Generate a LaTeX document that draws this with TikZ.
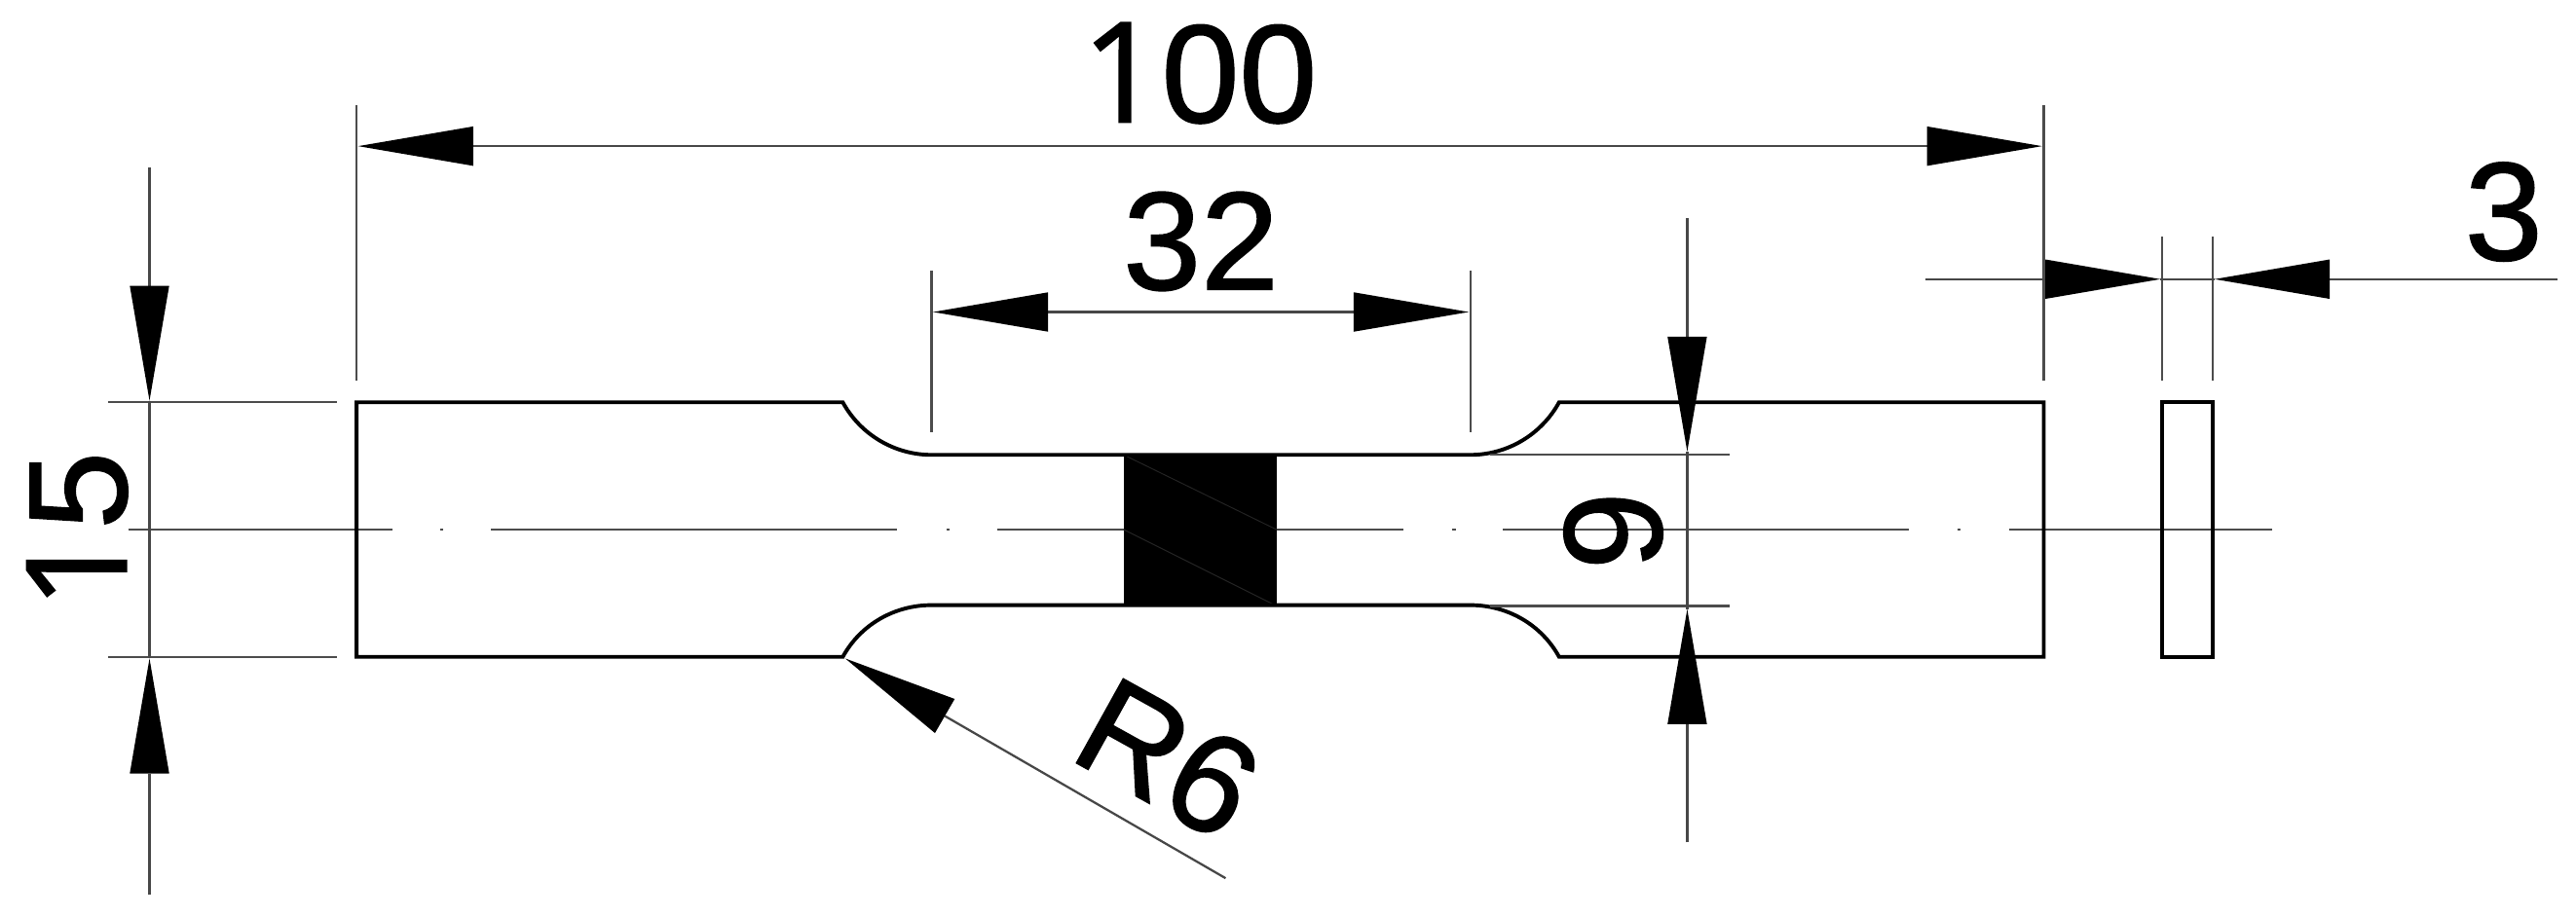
\documentclass[tikz,border=0pt]{standalone}
\usepackage{fontspec}
\newfontfamily\dimfont[FakeBold=1.2]{Liberation Sans}
\newfontfamily\onefont[FakeBold=1.2]{Open Sans}
\newcommand{\dimone}{{\onefont 1}}
\usetikzlibrary{arrows.meta}
\tikzset{
  x=1mm,y=-1mm,
  hd/.tip={Triangle[length=70mm,width=24mm,color=black,fill=black,line width=0pt]},
  body/.style={draw=black,line width=6.6pt,line join=miter},
  thin line/.style={draw=black!70,line width=4pt},
  dimline/.style={draw=black!72,line width=3.8pt},
  dimtext/.style={inner sep=0pt,font=\fontsize{242}{242}\dimfont,text=black},
}
\begin{document}
\begin{tikzpicture}
\useasboundingbox (0,0) rectangle (1568,558.4);
% centre line
\foreach \a/\b in {78/239,299/546,607/854,915/1162,1223/1383}
  \draw[thin line] (\a,322.5) -- (\b,322.5);
\foreach \a in {268.7,577,885,1192.5}
  \draw[thin line] (\a-1,322.5) -- (\a+1,322.5);
% black gauge band
\fill[black] (684,277) rectangle (777,369);
\draw[draw=black!86,line width=1.6pt] (684,277) -- (777,322.5);
\draw[draw=black!86,line width=1.6pt] (684,322.5) -- (777,369);
% outline
\draw[body] (513,245) -- (217,245) -- (217,400) -- (513,400)
  .. controls (523.8,380.3) and (544.5,368.5) .. (567,368.5)
  -- (895,368.5) .. controls (917.5,368.5) and (938.2,380.3) .. (949,400)
  -- (1244,400) -- (1244,245) -- (949,245)
  .. controls (938.2,264.7) and (917.5,277) .. (895,277)
  -- (567,277) .. controls (544.5,277) and (523.8,264.7) .. (513,245) -- cycle;
\draw[body] (1316,245) rectangle (1347,400);
% extension lines
\draw[thin line] (217,64) -- (217,232);
\draw[thin line] (1244,64) -- (1244,232);
\draw[thin line] (567,165) -- (567,263);
\draw[thin line] (895,165) -- (895,263);
\draw[thin line] (1316,144) -- (1316,232);
\draw[thin line] (1347,144) -- (1347,232);
\draw[thin line] (66,245) -- (205,245);
\draw[thin line] (66,400) -- (205,400);
\draw[thin line] (907,277) -- (1053,277);
\draw[thin line] (907,369) -- (1053,369);
% named dimension ends
\coordinate (a100l) at (218,89);  \coordinate (a100r) at (1243,89);
\coordinate (a32l)  at (568,190); \coordinate (a32r)  at (894,190);
\coordinate (a3s)   at (1172,170); \coordinate (a3a) at (1315,170);
\coordinate (a3b)   at (1348,170); \coordinate (a3e) at (1557,170);
\coordinate (a15s)  at (91,102);  \coordinate (a15a) at (91,244);
\coordinate (a15b)  at (91,401);  \coordinate (a15e) at (91,545);
\coordinate (a9s)   at (1027,133); \coordinate (a9a) at (1027,275);
\coordinate (a9b)   at (1027,371); \coordinate (a9e) at (1027,513);
\coordinate (r6a)   at (514.5,401); \coordinate (r6e) at (746,534.8);
% dimensions
\draw[dimline,{hd}-{hd}] (a100l) -- (a100r);
\draw[dimline,{hd}-{hd}] (a32l) -- (a32r);
\draw[dimline] (a3a) -- (a3b);
\draw[dimline,-{hd}] (a3s) -- (a3a);
\draw[dimline,-{hd}] (a3e) -- (a3b);
\draw[dimline] (a15a) -- (a15b);
\draw[dimline,-{hd}] (a15s) -- (a15a);
\draw[dimline,-{hd}] (a15e) -- (a15b);
\draw[dimline] (a9a) -- (a9b);
\draw[dimline,-{hd}] (a9s) -- (a9a);
\draw[dimline,-{hd}] (a9e) -- (a9b);
\draw[dimline,-{hd}] (r6e) -- (r6a);
% labels
\node[dimtext] (t100) at (730,44.5) {\dimone 00};
\node[dimtext] (t32) at (731,147) {32};
\node[dimtext] (t3) at (1524,129) {3};
\node[dimtext,rotate=90] (t15) at (47,323) {\dimone 5};
\node[dimtext,rotate=-90] (t9) at (982,323) {6};
\node[dimtext,rotate=-29] (tr6) at (711,462) {R6};
\end{tikzpicture}
\end{document}
